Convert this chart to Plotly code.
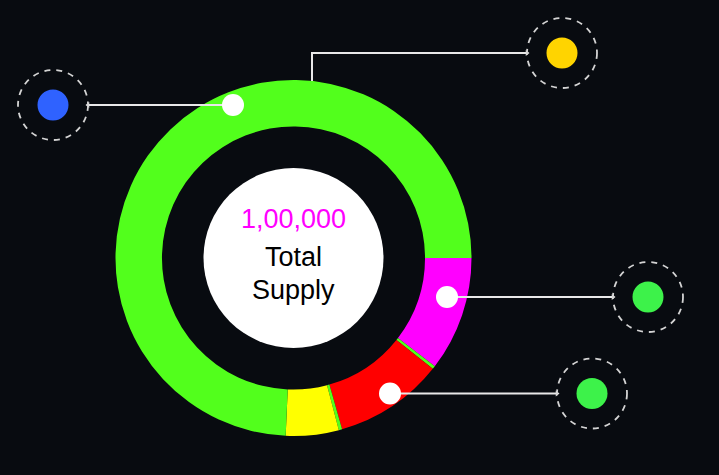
import plotly.graph_objects as go

# ---- data ----
segment_labels = ["Magenta share", "Divider A", "Red share", "Divider B", "Yellow share", "Green share"]
segment_values = [10.4, 0.3, 9.9, 0.3, 4.8, 74.3]
segment_colors = ["#ff00ff", "#52ff1c", "#ff0000", "#52ff1c", "#ffff00", "#52ff1c"]

center_value = "1,00,000"
center_lines = ["Total", "Supply"]

# callouts: ring dot (x, y), end dot (x, y), end dot colour
callout_ring_x = [233, 447, 390]
callout_ring_y = [105, 297, 393.5]
callout_end_x = [53, 648, 592]
callout_end_y = [105, 297, 393.5]
callout_colors = ["#2f62ff", "#3df24a", "#3df24a"]
# elbow callout (top, yellow)
elbow_x = [312, 312, 527]
elbow_y = [81, 53, 53]
elbow_end = (562, 53)
elbow_color = "#ffd400"

W, H = 719, 475
BG = "#080b10"
CX, CY, R_OUT = 293.5, 258, 178
HOLE = 0.739
R_CENTER = 90
R_WHITE = 11
R_DOT = 15.5
R_DASH = 35

fig = go.Figure()

fig.add_trace(go.Pie(
    labels=segment_labels, values=segment_values,
    marker=dict(colors=segment_colors, line=dict(width=0)),
    hole=HOLE, sort=False, direction="clockwise", rotation=90,
    textinfo="none", hoverinfo="label+percent", showlegend=False,
    domain=dict(x=[(CX - R_OUT) / W, (CX + R_OUT) / W],
                y=[(H - CY - R_OUT) / H, (H - CY + R_OUT) / H]),
))

shapes = []
# center white disk
shapes.append(dict(type="circle", xref="x", yref="y", layer="above",
                   x0=CX - R_CENTER, x1=CX + R_CENTER, y0=CY - R_CENTER, y1=CY + R_CENTER,
                   fillcolor="white", line=dict(width=0)))

line_col = "#e8e8e8"
for rx, ry, ex, ey, col in zip(callout_ring_x, callout_ring_y, callout_end_x, callout_end_y, callout_colors):
    sx = ex + R_DASH if ex < rx else ex - R_DASH
    shapes.append(dict(type="line", xref="x", yref="y", layer="above",
                       x0=sx, y0=ey, x1=rx, y1=ry, line=dict(color=line_col, width=2)))
    shapes.append(dict(type="circle", xref="x", yref="y", layer="above",
                       x0=rx - R_WHITE, x1=rx + R_WHITE, y0=ry - R_WHITE, y1=ry + R_WHITE,
                       fillcolor="white", line=dict(width=0)))
    shapes.append(dict(type="circle", xref="x", yref="y", layer="above",
                       x0=ex - R_DASH, x1=ex + R_DASH, y0=ey - R_DASH, y1=ey + R_DASH,
                       line=dict(color="#d4d4d4", width=1.8, dash="6px,6px")))
    shapes.append(dict(type="circle", xref="x", yref="y", layer="above",
                       x0=ex - R_DOT, x1=ex + R_DOT, y0=ey - R_DOT, y1=ey + R_DOT,
                       fillcolor=col, line=dict(width=0)))

# elbow callout
path = "M {} {} L {} {} L {} {}".format(elbow_x[0], elbow_y[0], elbow_x[1], elbow_y[1], elbow_x[2], elbow_y[2])
shapes.append(dict(type="path", xref="x", yref="y", layer="above", path=path,
                   line=dict(color=line_col, width=2)))
ex, ey = elbow_end
shapes.append(dict(type="circle", xref="x", yref="y", layer="above",
                   x0=ex - R_DASH, x1=ex + R_DASH, y0=ey - R_DASH, y1=ey + R_DASH,
                   line=dict(color="#d4d4d4", width=1.8, dash="6px,6px")))
shapes.append(dict(type="circle", xref="x", yref="y", layer="above",
                   x0=ex - R_DOT, x1=ex + R_DOT, y0=ey - R_DOT, y1=ey + R_DOT,
                   fillcolor=elbow_color, line=dict(width=0)))

# small arrow tips at line ends
tip_x = [callout_end_x[0] + R_DASH, callout_end_x[1] - R_DASH, callout_end_x[2] - R_DASH, elbow_x[2]]
tip_y = [callout_end_y[0], callout_end_y[1], callout_end_y[2], elbow_y[2]]
tip_sym = ["triangle-left", "triangle-right", "triangle-right", "triangle-right"]
fig.add_trace(go.Scatter(x=tip_x, y=tip_y, mode="markers", hoverinfo="skip", showlegend=False,
                         marker=dict(symbol=tip_sym, size=5, color=line_col)))

annotations = [
    dict(x=CX, y=219, xref="x", yref="y", text=center_value, showarrow=False,
         font=dict(family="Liberation Sans, Arial, sans-serif", size=27, color="#ff00ff")),
    dict(x=CX, y=257, xref="x", yref="y", text=center_lines[0], showarrow=False,
         font=dict(family="Liberation Sans, Arial, sans-serif", size=27, color="#000000")),
    dict(x=CX, y=290, xref="x", yref="y", text=center_lines[1], showarrow=False,
         font=dict(family="Liberation Sans, Arial, sans-serif", size=27, color="#000000")),
]

fig.update_layout(
    width=W, height=H, margin=dict(l=0, r=0, t=0, b=0),
    paper_bgcolor=BG, plot_bgcolor=BG,
    xaxis=dict(range=[0, W], visible=False, fixedrange=True),
    yaxis=dict(range=[H, 0], visible=False, fixedrange=True),
    shapes=shapes, annotations=annotations, showlegend=False,
)

fig.write_html("out.html")
